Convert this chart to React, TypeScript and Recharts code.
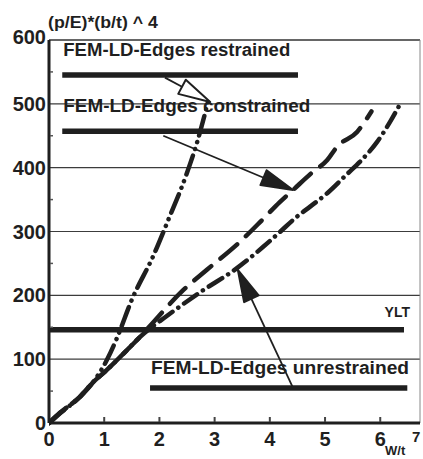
import React from "react";
import { LineChart, Line, XAxis, YAxis, ReferenceLine, Label } from "recharts";

const INK = "#1f1f1f";
const FONT = "'Liberation Sans', Arial, Helvetica, sans-serif";

// axes
const xTicks = [0, 1, 2, 3, 4, 5, 6];
const xMax = 6.72;
const yTicks = [0, 50, 100, 150, 200, 250, 300, 350, 400, 450, 500, 550, 600];
const gridValues = [100, 200, 300, 400, 500];

// FEM-LD curves
const restrainedX = [0, 0.2, 0.56, 0.8, 1.05, 1.23, 1.5, 1.89, 2.16, 2.5, 2.68, 2.88];
const restrainedY = [0, 15, 41, 64, 99, 133, 193, 262, 318, 392, 439, 503];

const constrainedX = [0, 0.2, 0.56, 0.8, 1.01, 1.41, 1.65, 1.89, 2.43, 2.86, 3.46, 3.86, 4.18, 4.42, 4.76, 5.04, 5.22, 5.58, 5.84];
const constrainedY = [0, 16, 41, 64, 80, 114, 135, 158, 208, 240, 284, 318, 346, 365, 392, 412, 433, 456, 488];

const unrestrainedX = [0, 0.2, 0.56, 0.8, 1.01, 1.41, 1.65, 2.14, 2.74, 3.41, 3.88, 4.18, 4.46, 4.73, 5.04, 5.4, 5.63, 5.94, 6.18, 6.38];
const unrestrainedY = [0, 16, 41, 64, 80, 114, 135, 168, 205, 243, 276, 299, 321, 339, 360, 390, 409, 440, 472, 503];

// legend bars (drawn inside the plot) and YLT level
const legendNames = ["FEM-LD-Edges restrained", "FEM-LD-Edges constrained", "FEM-LD-Edges unrestrained"];
const legendLevel = [545, 457, 55];
const legendFrom = [0.24, 0.24, 1.83];
const legendTo = [4.51, 4.51, 6.49];
const legendTextDy = [-19, -19, -14];
const legendTextLen = [227, 247, 258];

const yltLevel = 146;
const yltTo = 6.43;

// arrows: tail -> tip
const arrowFromX = [2.1, 2.07, 4.42];
const arrowFromY = [541, 450, 55];
const arrowToX = [2.92, 4.42, 3.42];
const arrowToY = [503, 365, 240];
const arrowOpen = [true, false, false];

const toPoints = (xs: number[], ys: number[]) => xs.map((x, i) => ({ x, y: ys[i] }));

const restrained = toPoints(restrainedX, restrainedY);
const constrained = toPoints(constrainedX, constrainedY);
const unrestrained = toPoints(unrestrainedX, unrestrainedY);

const textStyle = { fontFamily: FONT, fontWeight: 700, fill: INK } as const;

const YTick = (props: any) => {
  const { x, y, payload } = props;
  const v = payload.value;
  if (v % 100 !== 0) {
    return <line x1={x + 1} x2={x + 4} y1={y} y2={y} stroke="#555" strokeWidth={1.5} />;
  }
  return (
    <text x={x - 3} y={y + 7 + (v === 600 ? -3 : 0)} textAnchor="end" fontSize={20} {...textStyle}>
      {v}
    </text>
  );
};

const XTick = (props: any) => {
  const { x, y, payload } = props;
  return (
    <g>
      {payload.value > 0 && <line x1={x} x2={x} y1={y - 6} y2={y - 1} stroke="#444" strokeWidth={2} />}
      <text x={x} y={y + 23} textAnchor="middle" fontSize={20} {...textStyle}>
        {payload.value}
      </text>
    </g>
  );
};

const legendShape = (i: number) => (p: any) => (
  <g>
    <line x1={p.x1} y1={p.y1} x2={p.x2} y2={p.y2} stroke={INK} strokeWidth={5.5} />
    <text
      x={p.x1 + 1}
      y={p.y1 + legendTextDy[i]}
      fontSize={18}
      textLength={legendTextLen[i]}
      lengthAdjust="spacingAndGlyphs"
      {...textStyle}
    >
      {legendNames[i]}
    </text>
  </g>
);

const yltShape = (p: any) => (
  <g>
    <line x1={p.x1} y1={p.y1} x2={p.x2} y2={p.y2} stroke={INK} strokeWidth={5.5} />
    <text x={p.x2 + 6} y={p.y1 - 13} textAnchor="end" fontSize={14} {...textStyle}>
      YLT
    </text>
  </g>
);

const arrowShape = (open: boolean) => (p: any) => {
  const { x1, y1, x2, y2 } = p;
  const dx = x2 - x1;
  const dy = y2 - y1;
  const len = Math.sqrt(dx * dx + dy * dy) || 1;
  const ux = dx / len;
  const uy = dy / len;
  const head = 32;
  const half = 8;
  const bx = x2 - ux * head;
  const by = y2 - uy * head;
  const pts = `${x2},${y2} ${bx - uy * half},${by + ux * half} ${bx + uy * half},${by - ux * half}`;
  return (
    <g>
      <line x1={x1} y1={y1} x2={open ? bx : x2 - ux * 4} y2={open ? by : y2 - uy * 4} stroke={INK} strokeWidth={1.8} />
      <polygon points={pts} fill={open ? "white" : INK} stroke={INK} strokeWidth={2} strokeLinejoin="round" />
    </g>
  );
};

const YTitle = (props: any) => {
  const vb = props.viewBox || { x: 0, y: 40 };
  return (
    <text x={vb.x + 48} y={vb.y - 12} fontSize={17} textLength={110} lengthAdjust="spacingAndGlyphs" {...textStyle}>
      (p/E)*(b/t) ^ 4
    </text>
  );
};

const XTitle = (props: any) => {
  const vb = props.viewBox || { x: 49, y: 423, width: 371 };
  return (
    <g>
      <text x={vb.x + vb.width - 35} y={vb.y + 32} fontSize={13} {...textStyle}>
        W/t
      </text>
      <text x={vb.x + vb.width - 8} y={vb.y + 19} fontSize={15} {...textStyle}>
        7
      </text>
    </g>
  );
};

export default function App() {
  return (
    <div style={{ position: "absolute", left: 0, top: 0, width: 423, height: 459, background: "#fff" }}>
      <LineChart width={423} height={459} margin={{ top: 40, right: 3, bottom: 0, left: 0 }}>
        <XAxis
          type="number"
          dataKey="x"
          domain={[0, xMax]}
          ticks={xTicks}
          interval={0}
          allowDataOverflow
          height={36}
          tickSize={0}
          tickMargin={0}
          tickLine={false}
          tick={<XTick />}
          axisLine={{ stroke: INK, strokeWidth: 3 }}
        >
          <Label content={<XTitle />} />
        </XAxis>
        <YAxis
          type="number"
          domain={[0, 600]}
          ticks={yTicks}
          interval={0}
          width={49}
          tickSize={0}
          tickMargin={0}
          tickLine={false}
          tick={<YTick />}
          axisLine={{ stroke: INK, strokeWidth: 3 }}
        >
          <Label content={<YTitle />} />
        </YAxis>

        {gridValues.map((v) => (
          <ReferenceLine key={v} y={v} stroke="#3c3c3c" strokeWidth={1.2} />
        ))}
        <ReferenceLine y={600} stroke="#333" strokeWidth={1.5} />
        <ReferenceLine x={xMax} stroke="#888" strokeWidth={1} />

        {legendNames.map((n, i) => (
          <ReferenceLine
            key={n}
            ifOverflow="visible"
            segment={[
              { x: legendFrom[i], y: legendLevel[i] },
              { x: legendTo[i], y: legendLevel[i] },
            ]}
            shape={legendShape(i)}
          />
        ))}
        <ReferenceLine
          ifOverflow="visible"
          segment={[
            { x: 0, y: yltLevel },
            { x: yltTo, y: yltLevel },
          ]}
          shape={yltShape}
        />

        <Line
          data={restrained}
          dataKey="y"
          type="monotone"
          stroke={INK}
          strokeWidth={4.5}
          strokeDasharray="20 7 0.1 7 0.1 7"
          strokeLinecap="round"
          dot={false}
          isAnimationActive={false}
        />
        <Line
          data={constrained}
          dataKey="y"
          type="monotone"
          stroke={INK}
          strokeWidth={4.5}
          strokeDasharray="22 12"
          strokeLinecap="round"
          dot={false}
          isAnimationActive={false}
        />
        <Line
          data={unrestrained}
          dataKey="y"
          type="monotone"
          stroke={INK}
          strokeWidth={4.5}
          strokeDasharray="16 7 0.1 7"
          strokeLinecap="round"
          dot={false}
          isAnimationActive={false}
        />

        {arrowFromX.map((fx, i) => (
          <ReferenceLine
            key={"a" + i}
            ifOverflow="visible"
            segment={[
              { x: fx, y: arrowFromY[i] },
              { x: arrowToX[i], y: arrowToY[i] },
            ]}
            shape={arrowShape(arrowOpen[i])}
          />
        ))}
      </LineChart>
    </div>
  );
}
